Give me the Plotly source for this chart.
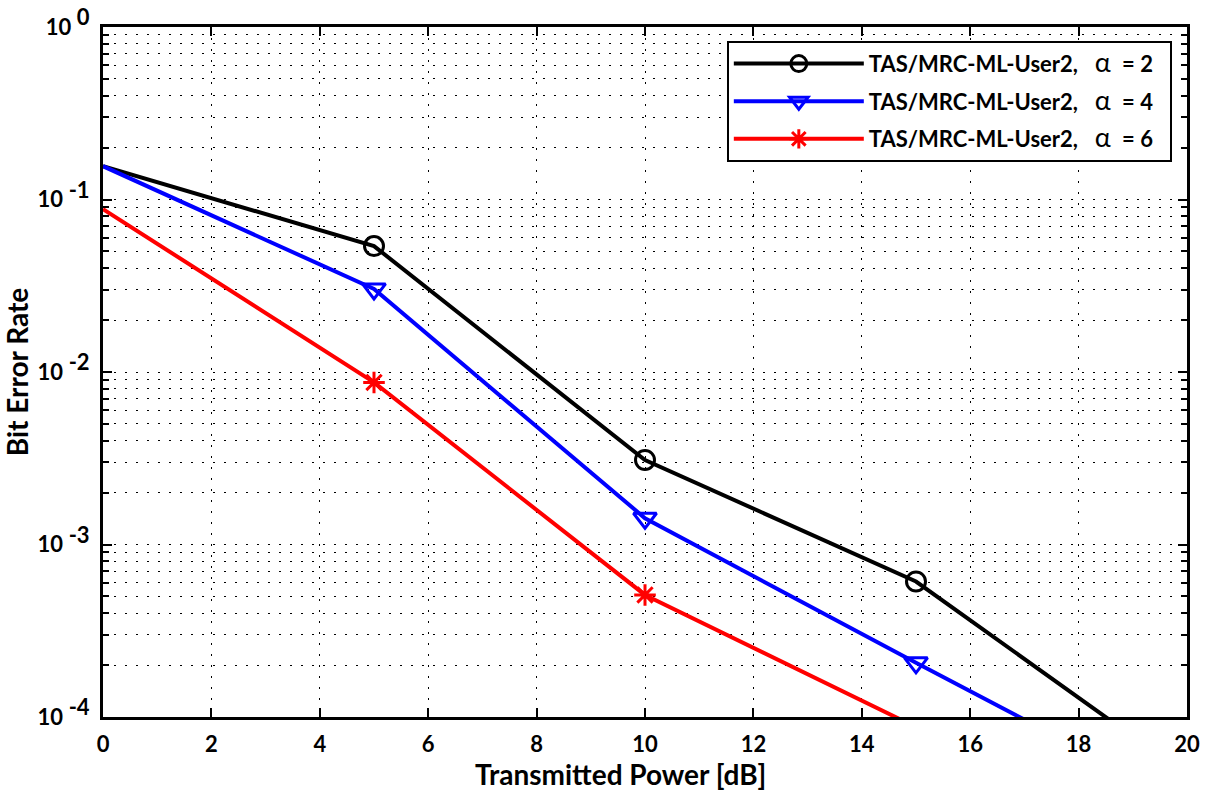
import plotly.graph_objects as go

snr_db = [0, 5, 10, 15, 20]
ber_alpha2 = [0.156, 0.0537, 0.00309, 6.1e-4, 4.6e-5]
ber_alpha4 = [0.156, 0.0303, 0.00142, 2.06e-4, 3.1e-5]
ber_alpha6 = [0.088, 0.00870, 5.1e-4, 8.6e-5, 1.5e-5]
marker_x = [5, 10, 15]

x_ticks = [0, 2, 4, 6, 8, 10, 12, 14, 16, 18, 20]
y_ticks = [1e-4, 1e-3, 1e-2, 1e-1, 1]
y_exps = ["-4", "-3", "-2", "-1", "0"]
y_tick_text = ["<b>10</b>\u00a0<sup><span style=\"font-size:22px\"><b>" + e + "</b></span></sup>"
               for e in y_exps]

series = [
    ("2", ber_alpha2, "black", "circle-open", 19),
    ("4", ber_alpha4, "#0000ff", "triangle-down-open", 20),
    ("6", ber_alpha6, "#ff0000", "asterisk-open", 18),
]

fig = go.Figure()
for val, ys, color, sym, msize in series:
    fig.add_trace(go.Scatter(x=snr_db, y=ys, mode="lines", showlegend=False,
                             line=dict(color=color, width=4), hoverinfo="skip"))
    mk_y = [ys[snr_db.index(v)] for v in marker_x]
    fig.add_trace(go.Scatter(x=marker_x, y=mk_y, mode="markers", showlegend=False,
                             marker=dict(symbol=sym, size=msize, color=color,
                                         line=dict(color=color, width=3))))
    label = ("<b>TAS/MRC-ML-User2,</b>\u00a0\u00a0\u00a0"
             "<span style=\"font-size:27px\">α</span>\u00a0\u00a0<b>= " + val + "</b>\u00a0\u00a0")
    fig.add_trace(go.Scatter(x=[None], y=[None], mode="lines+markers", name=label,
                             legendgroup="g" + val,
                             line=dict(color=color, width=4),
                             marker=dict(symbol=sym, size=msize - 2, color=color,
                                         line=dict(color=color, width=3))))

minor_vals = [m * 10 ** e for e in range(-4, 0) for m in range(2, 10)]

fig.update_layout(
    width=1207, height=793,
    margin=dict(l=103, r=20, t=27, b=76),
    paper_bgcolor="white", plot_bgcolor="white",
    font=dict(family="Lato, Open Sans, sans-serif", color="black", size=21),
    legend=dict(x=0.986, y=0.98, xanchor="right", yanchor="top",
                bgcolor="white", bordercolor="black", borderwidth=2,
                font=dict(size=22, color="black"), itemwidth=130,
                traceorder="grouped", tracegroupgap=6),
    xaxis=dict(range=[0, 20], tickvals=x_ticks, automargin=False,
               ticktext=[f"<b>{v}</b>" for v in x_ticks],
               tickfont=dict(size=22), ticklabelstandoff=6,
               showline=True, linecolor="black", linewidth=3, mirror="ticks",
               ticks="inside", ticklen=9, tickwidth=2, tickcolor="black",
               showgrid=True, gridcolor="black", gridwidth=1.3, griddash="2px,9px",
               zeroline=False),
    yaxis=dict(type="log", range=[-4, 0], tickvals=y_ticks, ticktext=y_tick_text,
               automargin=False,
               tickfont=dict(size=22), ticklabelstandoff=6,
               showline=True, linecolor="black", linewidth=3, mirror="ticks",
               ticks="inside", ticklen=9, tickwidth=2, tickcolor="black",
               showgrid=True, gridcolor="black", gridwidth=1.3, griddash="2px,9px",
               zeroline=False,
               minor=dict(tickvals=minor_vals, ticks="inside", ticklen=6, tickwidth=2,
                          tickcolor="black", showgrid=True, gridcolor="black",
                          gridwidth=1.3, griddash="2px,9px"),
               title=dict(text="<b>Bit Error Rate</b>", font=dict(size=28), standoff=8)),
    annotations=[dict(text="<b>Transmitted Power [dB]</b>", xref="paper", yref="paper",
                      x=0.477, y=-0.083, xanchor="center", yanchor="middle",
                      showarrow=False, font=dict(size=28, color="black"))],
)

fig.write_html("out.html", config={"displayModeBar": False},
               post_script="document.body.style.margin='0px';")
